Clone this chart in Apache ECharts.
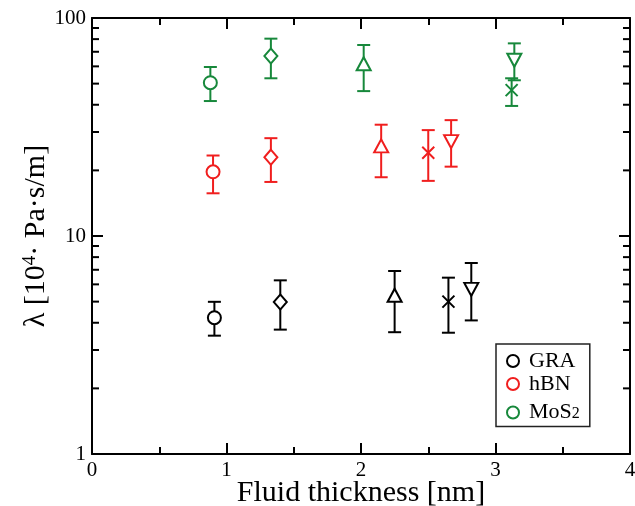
<!DOCTYPE html>
<html><head><meta charset="utf-8">
<script src="https://cdn.jsdelivr.net/npm/echarts@6/dist/echarts.min.js"></script>
<style>html,body{margin:0;padding:0;background:#fff}#c{width:635px;height:506px}</style>
</head><body><div id="c"></div>
<script>
// Data: [x, y, errLow, errHigh, symbol]
const graData = [
  [0.91, 4.22, 3.49, 4.99, 'circle'],
  [1.40, 4.98, 3.72, 6.26, 'diamond'],
  [2.25, 5.35, 3.62, 6.91, 'triangle'],
  [2.65, 5.00, 3.60, 6.44, 'x'],
  [2.82, 5.69, 4.10, 7.52, 'triangleDown']
];
const hbnData = [
  [0.90, 19.7, 15.7, 23.4, 'circle'],
  [1.33, 23.0, 17.7, 28.1, 'diamond'],
  [2.15, 25.9, 18.6, 32.4, 'triangle'],
  [2.50, 24.1, 17.9, 30.6, 'x'],
  [2.67, 27.1, 20.8, 34.0, 'triangleDown']
];
const mos2Data = [
  [0.88, 50.5, 41.6, 59.6, 'circle'],
  [1.33, 66.9, 52.9, 80.4, 'diamond'],
  [2.02, 61.7, 46.2, 75.2, 'triangle'],
  [3.12, 46.7, 39.5, 52.9, 'x'],
  [3.14, 64.0, 51.8, 76.5, 'triangleDown']
];
const seriesNames = ['GRA','hBN','MoS2'];
const xTicks = [0,1,2,3,4];
const yTicks = [1,10,100];
const yMinorTicks = [2,3,4,5,6,7,8,9,20,30,40,50,60,70,80,90];

const colors = ['#000000','#f01e1e','#17883b'];
const FONT = 'Liberation Serif';
const symbolMap = {
  circle: 'circle',
  diamond: 'diamond',
  triangle: 'triangle',
  x: 'path://M0,0L10,10M10,0L0,10',
  triangleDown: 'path://M0,0L10,0L5,9.5Z'
};
const symbolSizeMap = {
  circle: 13, diamond: [13,15], triangle: [14,13], x: [12,12], triangleDown: [14,13]
};

function errSeries(data, color){
  return {
    type:'custom', name: 'err', silent:true, z: 2,
    data: data.map(d => [d[0], d[1], d[2], d[3]]),
    encode: {x:0, y:[1,2,3]},
    renderItem: function(params, api){
      const x = api.value(0);
      const lo = api.coord([x, api.value(2)]);
      const hi = api.coord([x, api.value(3)]);
      const hw = 6.5;
      const st = {stroke: color, lineWidth: 2, fill:'none'};
      return {type:'group', children:[
        {type:'line', shape:{x1:lo[0], y1:lo[1], x2:hi[0], y2:hi[1]}, style:st},
        {type:'line', shape:{x1:lo[0]-hw, y1:lo[1], x2:lo[0]+hw, y2:lo[1]}, style:st},
        {type:'line', shape:{x1:hi[0]-hw, y1:hi[1], x2:hi[0]+hw, y2:hi[1]}, style:st}
      ]};
    }
  };
}
function ptSeries(name, data, color){
  return {
    type:'scatter', name: name, z: 3,
    data: data.map(d => ({value:[d[0], d[1]], symbol: symbolMap[d[4]], symbolSize: symbolSizeMap[d[4]]})),
    itemStyle:{color:'#fff', borderColor: color, borderWidth: 2, opacity:1},
    emphasis:{disabled:true}
  };
}

const minorTickSeries = {
  type:'custom', silent:true, z: 5,
  data: yMinorTicks.map(v => [0, v]),
  encode:{x:0, y:1},
  renderItem: function(params, api){
    const v = api.value(1);
    const l = api.coord([0, v]);
    const r = api.coord([4, v]);
    const st = {stroke:'#000', lineWidth: 2};
    return {type:'group', children:[
      {type:'line', shape:{x1:l[0], y1:l[1], x2:l[0]+7, y2:l[1]}, style:st},
      {type:'line', shape:{x1:r[0], y1:r[1], x2:r[0]-7, y2:r[1]}, style:st}
    ]};
  }
};

const chart = echarts.init(document.getElementById('c'), null, {renderer:'canvas'});
const axisCommon = {
  axisLine:{show:true, onZero:false, lineStyle:{color:'#000', width:2}},
  axisTick:{show:true, inside:true, length:11, lineStyle:{color:'#000', width:2}},
  splitLine:{show:false}
};
chart.setOption({
  animation:false,
  backgroundColor:'#fff',
  grid:{left:92, right:5, top:18, bottom:52, containLabel:false, outerBoundsMode:'none'},
  xAxis:[
    Object.assign({type:'value', min:xTicks[0], max:xTicks[xTicks.length-1], interval:1, position:'bottom',
      minorTick:{show:true, splitNumber:2, length:7, lineStyle:{color:'#000', width:2}},
      axisLabel:{color:'#000', fontFamily:FONT, fontSize:21, margin:6},
      name:'Fluid thickness [nm]', nameLocation:'middle', nameGap:24, nameMoveOverlap:false,
      nameTextStyle:{color:'#000', fontFamily:FONT, fontSize:30}
    }, axisCommon),
    Object.assign({type:'value', min:xTicks[0], max:xTicks[xTicks.length-1], interval:1, position:'top',
      minorTick:{show:true, splitNumber:2, length:7, lineStyle:{color:'#000', width:2}},
      axisLabel:{show:false}
    }, axisCommon)
  ],
  yAxis:[
    Object.assign({type:'log', logBase:10, min:yTicks[0], max:yTicks[yTicks.length-1], position:'left',
      axisLabel:{color:'#000', fontFamily:FONT, fontSize:21, margin:6},
      name:'λ [10{sup|4}· Pa·s/m]', nameLocation:'middle', nameGap:40, nameMoveOverlap:false,
      nameTextStyle:{color:'#000', fontFamily:FONT, fontSize:30,
        rich:{sup:{fontFamily:FONT, fontSize:19, color:'#000', verticalAlign:'top', padding:[0,0,12,0]}}}
    }, axisCommon),
    Object.assign({type:'log', logBase:10, min:yTicks[0], max:yTicks[yTicks.length-1], position:'right',
      axisLabel:{show:false}
    }, axisCommon)
  ],
  legend:{
    orient:'vertical', left:496, top:344,
    data: seriesNames.map((n,i) => ({name:n, icon:'circle', itemStyle:{color:'#fff', borderColor:colors[i], borderWidth:2}})),
    itemWidth:12, itemHeight:12, itemGap:1,
    borderColor:'#222', borderWidth:1.5, padding:[6,10,3,10],
    formatter: n => n === 'MoS2' ? 'MoS{sub|2}' : n,
    textStyle:{color:'#000', fontFamily:FONT, fontSize:22, lineHeight:19, padding:[0,0,0,5],
      rich:{sub:{fontFamily:FONT, fontSize:16, color:'#000', verticalAlign:'bottom', lineHeight:19, padding:[10,0,0,0]}}},
    selectedMode:false
  },
  series:[
    errSeries(graData, colors[0]), errSeries(hbnData, colors[1]), errSeries(mos2Data, colors[2]),
    ptSeries('GRA', graData, colors[0]), ptSeries('hBN', hbnData, colors[1]), ptSeries('MoS2', mos2Data, colors[2]),
    minorTickSeries
  ]
});
</script></body></html>
